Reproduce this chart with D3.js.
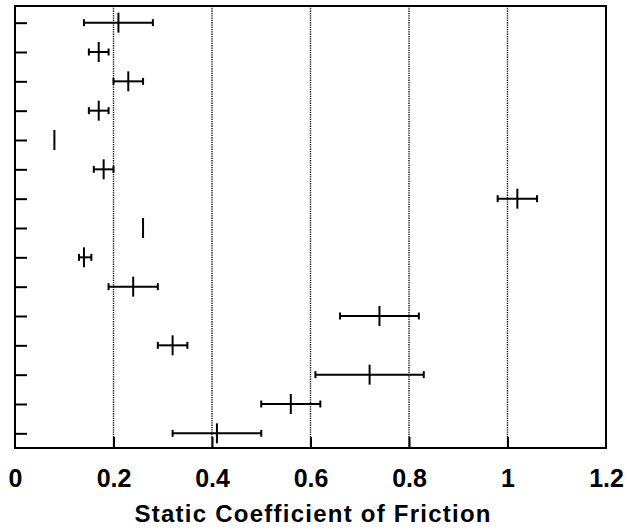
<!DOCTYPE html>
<html>
<head>
<meta charset="utf-8">
<script src="https://cdn.jsdelivr.net/npm/d3@7"></script>
<style>
  html, body { margin: 0; padding: 0; background: #fff; }
  svg { display: block; }
  text { font-family: "Liberation Sans", Arial, Helvetica, sans-serif; font-weight: bold; fill: #000; }
</style>
</head>
<body>
<svg id="chart" width="628" height="531"></svg>
<script>
// Rows top to bottom (no labels shown on the original y axis)
const rows = ["1","2","3","4","5","6","7","8","9","10","11","12","13","14","15"];
// Mean static coefficient of friction per row
const means = [0.21, 0.17, 0.23, 0.17, 0.08, 0.18, 1.02, 0.26, 0.14, 0.24, 0.74, 0.32, 0.72, 0.56, 0.41];
// Lower and upper ends of the error bars
const lows  = [0.14, 0.15, 0.20, 0.15, 0.08, 0.16, 0.98, 0.26, 0.13, 0.19, 0.66, 0.29, 0.61, 0.50, 0.32];
const highs = [0.28, 0.19, 0.26, 0.19, 0.08, 0.20, 1.06, 0.26, 0.155, 0.29, 0.82, 0.35, 0.83, 0.62, 0.50];
// X axis ticks and grid lines
const xTicks = [0, 0.2, 0.4, 0.6, 0.8, 1, 1.2];
const gridValues = [0.2, 0.4, 0.6, 0.8, 1];
const xTitle = "Static Coefficient of Friction";

const svg = d3.select("#chart");
const L = 15, R = 606, T = 6, B = 448;

const x = d3.scaleLinear().domain([0, 1.2]).range([L, R]);
const y = d3.scalePoint().domain(rows).range([T + 2, B]).padding(0.5);

// Grid lines (dotted)
svg.append("g").selectAll("line").data(gridValues).join("line")
  .attr("x1", d => x(d)).attr("x2", d => x(d))
  .attr("y1", T).attr("y2", B)
  .attr("stroke", "#111").attr("stroke-width", 1.4)
  .attr("stroke-dasharray", "1.3,1");

// Frame
svg.append("rect").attr("x", L).attr("y", T).attr("width", R - L).attr("height", B - T)
  .attr("fill", "none").attr("stroke", "#000").attr("stroke-width", 2);

// Bottom axis: inward ticks + labels
const xAxis = d3.axisBottom(x).tickValues(xTicks).tickSizeInner(-11).tickSizeOuter(0)
  .tickPadding(26).tickFormat(d => d3.format("~g")(d));
const gx = svg.append("g").attr("transform", `translate(0,${B})`).call(xAxis);
gx.select(".domain").remove();
gx.selectAll(".tick line").attr("stroke", "#000").attr("stroke-width", 2)
  .filter(d => d === 0 || d === 1.2).remove();
gx.selectAll(".tick text").attr("font-size", 25).attr("font-family", "Liberation Sans, Arial, sans-serif")
  .attr("font-weight", "bold").attr("fill", "#000").attr("dy", 0).attr("y", 39);

// Left axis: inward ticks, no labels
const yAxis = d3.axisLeft(y).tickSizeInner(-12).tickSizeOuter(0).tickFormat("");
const gy = svg.append("g").attr("transform", `translate(${L},0)`).call(yAxis);
gy.select(".domain").remove();
gy.selectAll(".tick line").attr("stroke", "#000").attr("stroke-width", 2);

// Error bars
const data = rows.map((r, i) => ({ r, m: means[i], lo: lows[i], hi: highs[i] }));
const g = svg.append("g").attr("stroke", "#000").attr("stroke-width", 2);
data.forEach(d => {
  const yy = y(d.r);
  if (d.hi > d.lo) {
    g.append("line").attr("x1", x(d.lo)).attr("x2", x(d.hi)).attr("y1", yy).attr("y2", yy);
    g.append("line").attr("x1", x(d.lo)).attr("x2", x(d.lo)).attr("y1", yy - 3.5).attr("y2", yy + 3.5);
    g.append("line").attr("x1", x(d.hi)).attr("x2", x(d.hi)).attr("y1", yy - 3.5).attr("y2", yy + 3.5);
  }
  g.append("line").attr("x1", x(d.m)).attr("x2", x(d.m)).attr("y1", yy - 10).attr("y2", yy + 10);
});

// Axis title
svg.append("text").attr("x", (L + R) / 2 + 2).attr("y", 522).attr("text-anchor", "middle")
  .attr("font-size", 24).attr("textLength", 356).attr("lengthAdjust", "spacing")
  .text(xTitle);
</script>
</body>
</html>
